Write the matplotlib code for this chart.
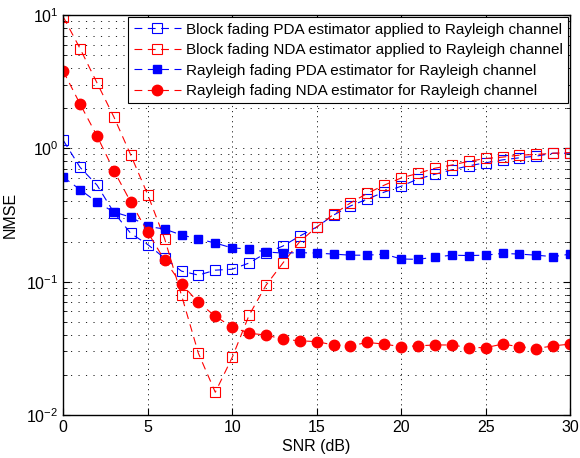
import matplotlib
matplotlib.use("Agg")
import matplotlib.pyplot as plt
import numpy as np
from matplotlib.ticker import LogLocator, NullFormatter

plt.rcParams['font.family'] = ['Liberation Sans', 'DejaVu Sans']

snr = list(range(0, 31))
block_pda = [1.15, 0.72, 0.53, 0.33, 0.23, 0.19, 0.15, 0.12, 0.112, 0.122, 0.124,
             0.138, 0.164, 0.185, 0.22, 0.257, 0.316, 0.37, 0.417, 0.47, 0.52,
             0.59, 0.64, 0.69, 0.74, 0.78, 0.82, 0.85, 0.875, 0.92, 0.92]
block_nda = [9.7, 5.6, 3.1, 1.72, 0.89, 0.45, 0.21, 0.079, 0.029, 0.0148, 0.027,
             0.056, 0.094, 0.138, 0.2, 0.257, 0.32, 0.39, 0.46, 0.53, 0.6,
             0.65, 0.71, 0.75, 0.8, 0.84, 0.86, 0.89, 0.9, 0.92, 0.93]
ray_pda = [0.61, 0.49, 0.395, 0.333, 0.305, 0.26, 0.248, 0.224, 0.209, 0.195, 0.179,
           0.176, 0.167, 0.164, 0.165, 0.164, 0.161, 0.158, 0.158, 0.161, 0.148,
           0.147, 0.153, 0.158, 0.157, 0.158, 0.163, 0.161, 0.158, 0.154, 0.161]
ray_nda = [3.8, 2.15, 1.24, 0.68, 0.395, 0.235, 0.145, 0.096, 0.070, 0.055, 0.0457,
           0.041, 0.0398, 0.037, 0.036, 0.0355, 0.0335, 0.033, 0.035, 0.034, 0.0325,
           0.033, 0.0335, 0.0335, 0.032, 0.032, 0.034, 0.0325, 0.0315, 0.033, 0.034]

labels = ["Block fading PDA estimator applied to Rayleigh channel",
          "Block fading NDA estimator applied to Rayleigh channel",
          "Rayleigh fading PDA estimator for Rayleigh channel",
          "Rayleigh fading NDA estimator for Rayleigh channel"]

fig = plt.figure(figsize=(5.8, 4.58), dpi=100)
ax = fig.add_axes([0.109, 0.094, 0.874, 0.873])

lw = 0.8
dash = (0, (7, 5))
ax.semilogy(snr, block_pda, linestyle=dash, color='blue', lw=lw, marker='s', ms=6.5,
            mfc='none', mec='blue', mew=0.8, label=labels[0])
ax.semilogy(snr, block_nda, linestyle=dash, color='red', lw=lw, marker='s', ms=6.5,
            mfc='none', mec='red', mew=0.8, label=labels[1])
ax.semilogy(snr, ray_pda, linestyle=dash, color='blue', lw=lw, marker='s', ms=6,
            mfc='blue', mec='blue', label=labels[2])
ax.semilogy(snr, ray_nda, linestyle=dash, color='red', lw=lw, marker='o', ms=7.5,
            mfc='red', mec='red', label=labels[3])

ax.set_xlim(0, 30)
ax.set_ylim(1e-2, 10)
ax.set_xticks([0, 5, 10, 15, 20, 25, 30])
ax.yaxis.set_major_locator(LogLocator(base=10, numticks=10))
ax.yaxis.set_minor_locator(LogLocator(base=10, subs=np.arange(2, 10), numticks=10))
ax.yaxis.set_minor_formatter(NullFormatter())

ax.xaxis.grid(True, which='major', linestyle=(0, (1.2, 4)), color='#222222', lw=0.7)
ax.yaxis.grid(True, which='both', linestyle=(0, (1.2, 6.5)), color='#222222', lw=0.7)
ax.set_axisbelow(True)
ax.tick_params(which='both', direction='in', top=True, right=True, labelsize=11.5)
ax.tick_params(which='major', length=5)
ax.tick_params(which='minor', length=3)
for s in ax.spines.values():
    s.set_linewidth(1.0)

ax.set_xlabel("SNR (dB)", fontsize=11.5, labelpad=3)
ax.set_ylabel("NMSE", fontsize=11.5, labelpad=6)

leg = ax.legend(loc='upper right', fontsize=11, frameon=True, fancybox=False,
                edgecolor='black', framealpha=1, handlelength=3.1,
                borderaxespad=0.15, labelspacing=0.42, handletextpad=0.3,
                borderpad=0.35)
leg.get_frame().set_linewidth(0.8)

fig.savefig("out.png", dpi=100)
